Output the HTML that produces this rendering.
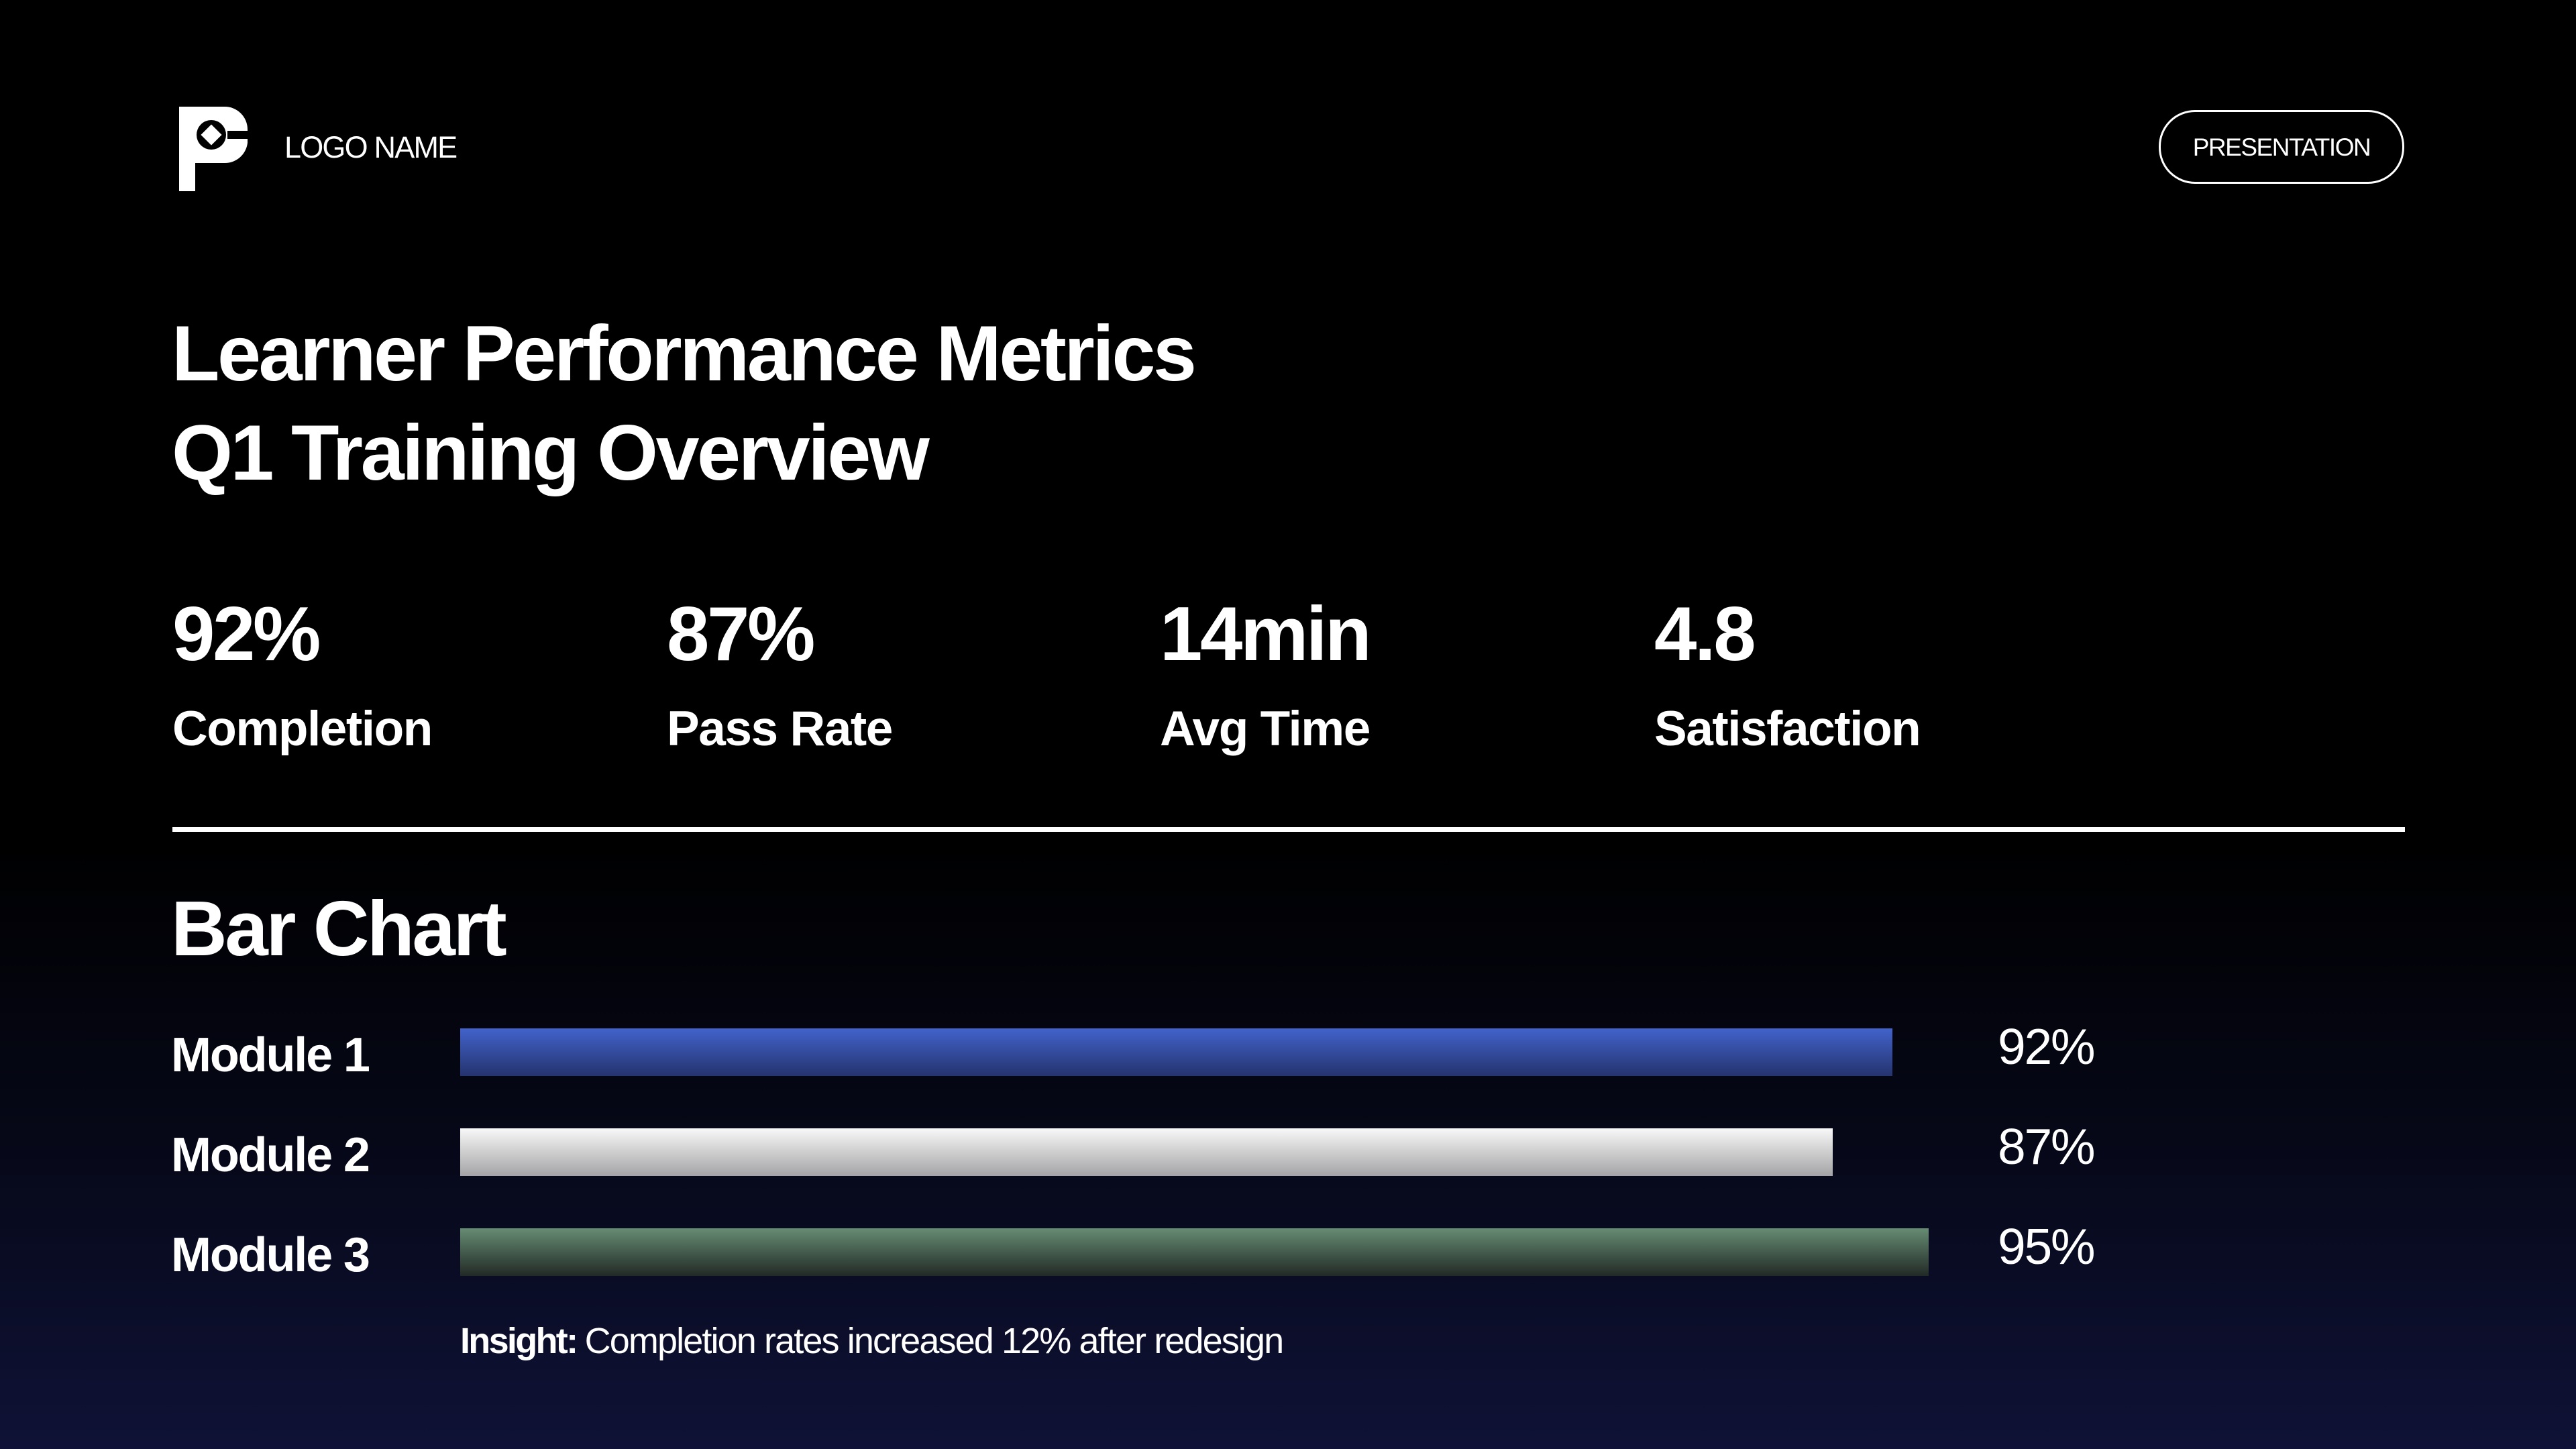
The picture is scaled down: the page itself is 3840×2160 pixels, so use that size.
<!DOCTYPE html>
<html><head><meta charset="utf-8"><style>
html,body{margin:0;padding:0}
body{width:3840px;height:2160px;overflow:hidden;position:relative;font-family:"Liberation Sans",sans-serif;color:#fff;
background:linear-gradient(180deg,#000 0px,#000 1250px,#060818 1700px,#0f1236 2160px);}
.a{position:absolute;white-space:nowrap;line-height:1}
.b{font-weight:bold;letter-spacing:-0.03em}
</style></head><body>
<svg class="a" style="left:267px;top:159px" width="102" height="126" viewBox="0 0 102 126">
<path d="M0 0 H68 A34 34 0 0 1 102 34 V54 A34 34 0 0 1 68 84 H24 V126 H0 Z" fill="#fff"/>
<circle cx="48" cy="42" r="22" fill="#000"/><rect x="72" y="36" width="30" height="12" fill="#000"/>
<rect x="37" y="31" width="22" height="22" fill="#fff" transform="rotate(45 48 42)"/>
</svg>
<div class="a" style="left:424px;top:197px;font-size:45px;letter-spacing:-0.04em">LOGO NAME</div>
<div class="a" style="left:3218px;top:164px;width:360px;height:104px;border:3px solid #fff;border-radius:54px;display:flex;align-items:center;justify-content:center;font-size:37px;letter-spacing:-0.04em">PRESENTATION</div>
<div class="a b" style="left:256px;top:468px;font-size:117px">Learner Performance Metrics</div>
<div class="a b" style="left:256px;top:616px;font-size:117px">Q1 Training Overview</div>

<div class="a b" style="left:257px;top:889px;font-size:114px">92%</div>
<div class="a b" style="left:257px;top:1050px;font-size:73px;letter-spacing:-0.02em">Completion</div>
<div class="a b" style="left:994px;top:889px;font-size:114px">87%</div>
<div class="a b" style="left:994px;top:1050px;font-size:73px;letter-spacing:-0.02em">Pass Rate</div>
<div class="a b" style="left:1729px;top:889px;font-size:114px">14min</div>
<div class="a b" style="left:1729px;top:1050px;font-size:73px;letter-spacing:-0.02em">Avg Time</div>
<div class="a b" style="left:2466px;top:889px;font-size:114px">4.8</div>
<div class="a b" style="left:2466px;top:1050px;font-size:73px;letter-spacing:-0.02em">Satisfaction</div>

<div class="a" style="left:257px;top:1233px;width:3328px;height:7px;background:#fff"></div>
<div class="a b" style="left:255px;top:1326px;font-size:116px">Bar Chart</div>
<div id="chart"></div>
<div class="a" style="left:686px;top:1972px;font-size:54px;font-weight:bold;letter-spacing:-0.05em">Insight: <span style="font-weight:normal;letter-spacing:-0.035em">Completion rates increased 12% after redesign</span></div>
<script>
const categories = ["Module 1","Module 2","Module 3"];
const values = [92, 87, 95];
const valueLabels = ["92%","87%","95%"];
const x0 = 686, fullW = 2279, d0 = -27, d1 = 100;
function xScale(v){ return fullW * (v - d0) / (d1 - d0); }
function yTop(i){ return 1533 + i * 149; }
const grads = ["linear-gradient(180deg,#4263cc,#25336e)","linear-gradient(180deg,#f8f8f8,#a4a4a6)","linear-gradient(180deg,#668c73,#222a26)"];
const root = document.getElementById('chart');
categories.forEach((c,i)=>{
  const t = yTop(i);
  const lab = document.createElement('div');
  lab.className='a b';
  lab.style.cssText=`left:255px;top:${t+4}px;font-size:72px;letter-spacing:-0.03em`;
  lab.textContent=c;
  
  
  root.appendChild(lab);
  const bar = document.createElement('div');
  bar.className='a';
  bar.style.cssText=`left:${x0}px;top:${t}px;width:${xScale(values[i])}px;height:71px;background:${grads[i]}`;
  
  
  root.appendChild(bar);
  const v = document.createElement('div');
  v.className='a';
  v.style.cssText=`left:2978px;top:${t-10}px;font-size:75px;letter-spacing:-0.03em`;
  v.textContent=valueLabels[i];
  
  
  root.appendChild(v);
});
</script>
</body></html>
